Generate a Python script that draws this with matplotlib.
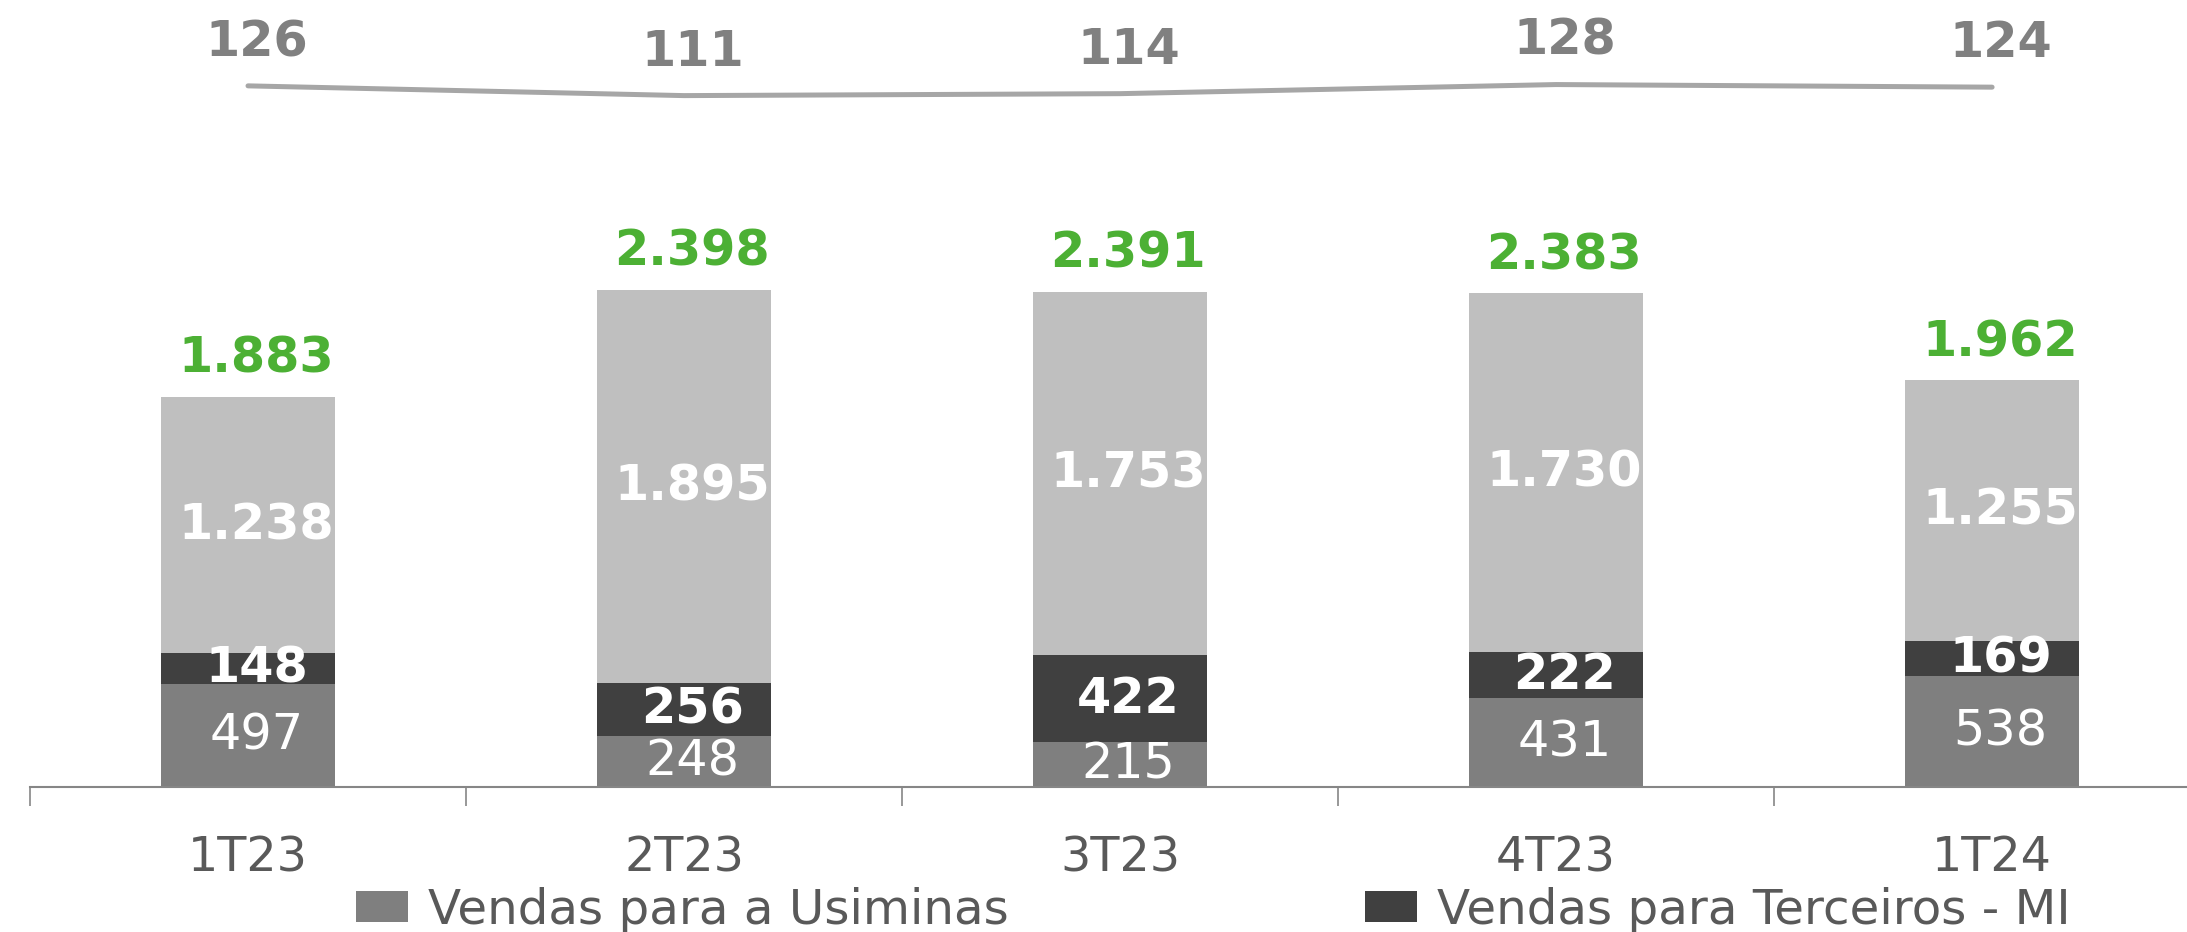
import matplotlib
matplotlib.use("Agg")
import matplotlib.pyplot as plt
from matplotlib.patches import Patch
import numpy as np

categories = ["1T23", "2T23", "3T23", "4T23", "1T24"]
vendas_usiminas = [497, 248, 215, 431, 538]
vendas_terceiros_mi = [148, 256, 422, 222, 169]
vendas_outros = [1238, 1895, 1753, 1730, 1255]
totais = [1883, 2398, 2391, 2383, 1962]
linha = [126, 111, 114, 128, 124]

def fmt(v):
    return f"{v:,}".replace(",", ".")

W, H = 2187, 932
dpi = 100
fig = plt.figure(figsize=(W / dpi, H / dpi), dpi=dpi)
plt.rcParams['font.family'] = ['DejaVu Sans']

ax_left = 30 / W
ax_bottom = (H - 787) / H
ax = fig.add_axes([ax_left, ax_bottom, 1 - ax_left, 787 / H])

x = np.arange(len(categories))
width = 0.4
c_bottom = "#7F7F7F"
c_mid = "#404040"
c_top = "#BFBFBF"
fs_b = 35.5
fs_r = 35.5
dx = 6  # points

ax.bar(x, vendas_usiminas, width, color=c_bottom)
ax.bar(x, vendas_terceiros_mi, width, bottom=vendas_usiminas, color=c_mid)
base3 = np.array(vendas_usiminas) + np.array(vendas_terceiros_mi)
ax.bar(x, vendas_outros, width, bottom=base3, color=c_top)

for i in range(len(x)):
    ax.annotate(str(vendas_usiminas[i]), (x[i], vendas_usiminas[i] / 2), xytext=(dx, 0),
                textcoords="offset points", ha="center", va="center", color="white", fontsize=fs_r)
    ax.annotate(str(vendas_terceiros_mi[i]), (x[i], vendas_usiminas[i] + vendas_terceiros_mi[i] / 2),
                xytext=(dx, 0), textcoords="offset points",
                ha="center", va="center", color="white", fontsize=fs_b, fontweight="bold")
    ax.annotate(fmt(vendas_outros[i]), (x[i], base3[i] + vendas_outros[i] / 2),
                xytext=(dx, 0), textcoords="offset points", ha="center", va="center",
                color="white", fontsize=fs_b, fontweight="bold")
    ax.annotate(fmt(totais[i]), (x[i], totais[i]), xytext=(dx, 27.5), textcoords="offset points",
                ha="center", va="center", color="#4CB034", fontsize=fs_b, fontweight="bold")

for s in ["top", "right", "left"]:
    ax.spines[s].set_visible(False)
ax.spines["bottom"].set_color("#868686")
ax.spines["bottom"].set_linewidth(1.5)
ax.set_yticks([])
ax.set_xticks(x)
ax.set_xticklabels(categories, fontsize=34.3, color="#595959")
ax.tick_params(axis="x", which="major", length=0, pad=34)
ax.set_xticks(np.arange(-0.5, 4.0, 1.0), minor=True)
ax.tick_params(axis="x", which="minor", length=14, width=1.2, color="#868686", direction="out")
ax.set_xlim(-0.5, 4.447)
ax.set_ylim(0, 787 / 0.2072)

ax2 = ax.twinx()
ax2.set_ylim(-952, 258)
ax2.set_xlim(-0.5, 4.447)
ax2.plot(x, linha, color="#A6A6A6", linewidth=3.6, solid_capstyle="round", solid_joinstyle="round")
for i in range(len(x)):
    ax2.annotate(str(linha[i]), (x[i], linha[i]), xytext=(dx, 31.5), textcoords="offset points",
                 ha="center", va="center", color="#808080", fontsize=fs_b, fontweight="bold")
ax2.axis("off")

handles = [Patch(facecolor=c_bottom, edgecolor="none"), Patch(facecolor=c_mid, edgecolor="none")]
labels = ["Vendas para a Usiminas", "Vendas para Terceiros - MI"]
fig.legend(handles, labels, loc="center left", bbox_to_anchor=(356 / W, 1 - 910 / H),
           ncol=2, frameon=False, fontsize=34.8, labelcolor="#595959",
           handlelength=1.07, handleheight=0.64, handletextpad=0.42, columnspacing=7.37,
           borderpad=0, borderaxespad=0)

fig.savefig("out.png", dpi=dpi)
